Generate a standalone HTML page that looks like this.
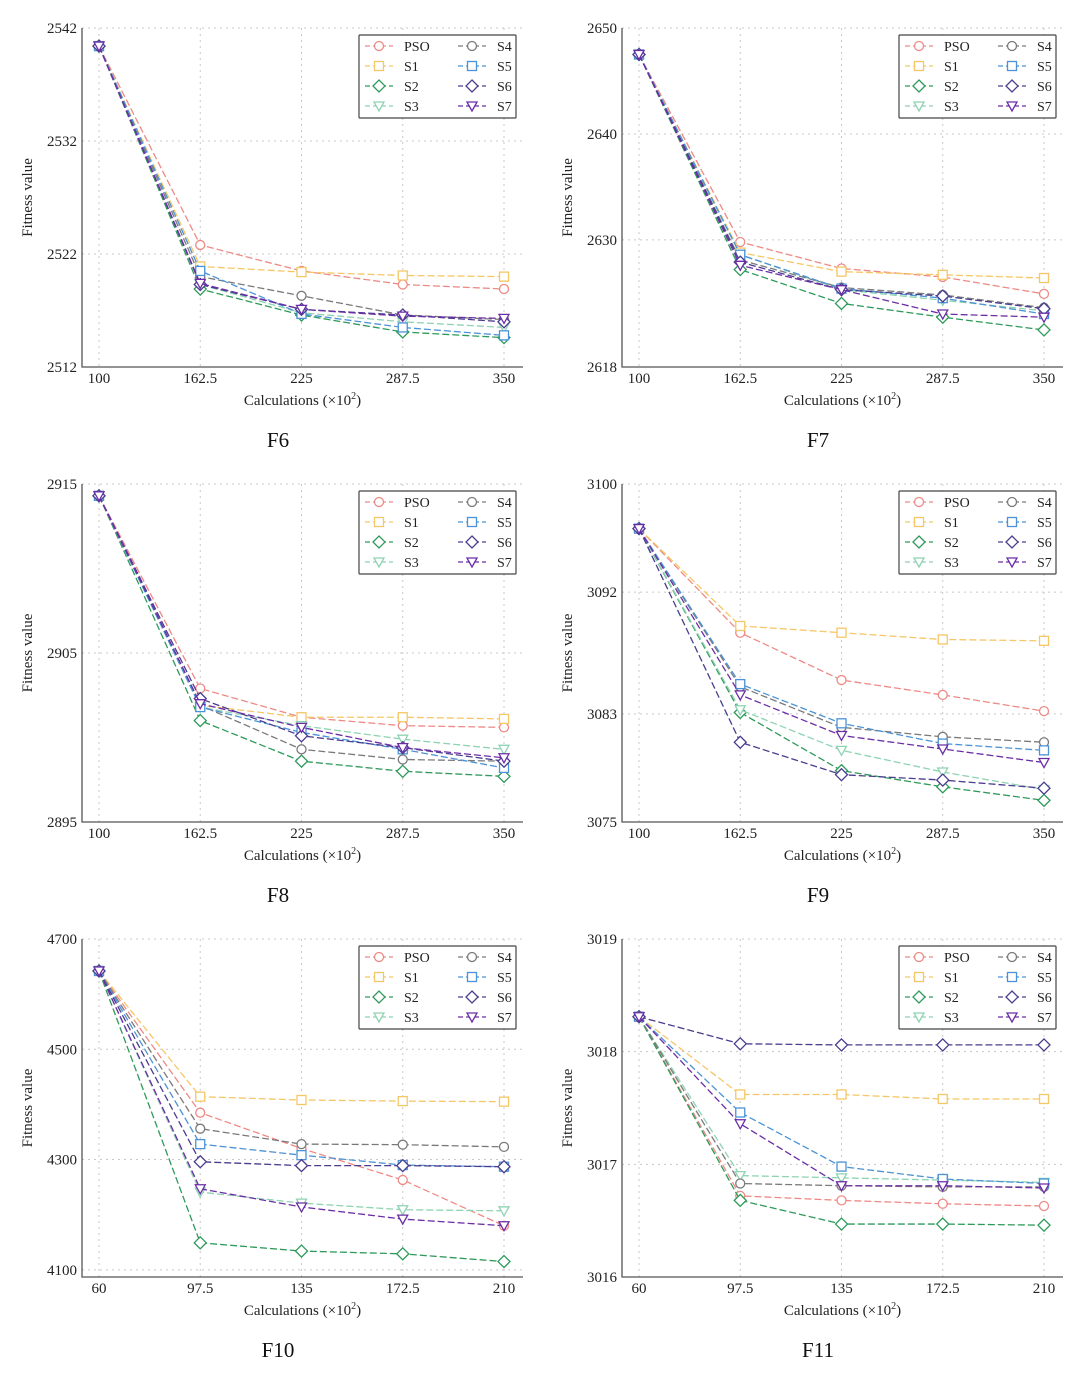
<!DOCTYPE html>
<html><head><meta charset="utf-8"><style>
html,body{margin:0;padding:0;background:#fff;}
svg{display:block;font-family:"Liberation Serif",serif;}
</style></head>
<body>
<svg id="fig" width="1080" height="1376" viewBox="0 0 1080 1376" xmlns="http://www.w3.org/2000/svg"></svg>
<script>
const seriesNames = ["PSO","S1","S2","S3","S4","S5","S6","S7"];
const xA = [100,162.5,225,287.5,350];
const xB = [60,97.5,135,172.5,210];
const f6 = [[2540.4,2522.8,2520.5,2519.3,2518.9],[2540.4,2520.9,2520.4,2520.1,2520.0],[2540.4,2518.9,2516.6,2515.1,2514.6],[2540.4,2519.3,2516.8,2516.0,2515.5],[2540.4,2520.0,2518.3,2516.6,2516.2],[2540.4,2520.5,2516.7,2515.5,2514.8],[2540.4,2519.3,2517.1,2516.6,2516.0],[2540.4,2519.4,2517.1,2516.5,2516.3]];
const f7 = [[2647.5,2629.8,2627.3,2626.5,2624.9],[2647.5,2628.8,2627.0,2626.7,2626.4],[2647.5,2627.2,2624.0,2622.7,2621.5],[2647.5,2628.6,2625.3,2624.3,2623.3],[2647.5,2628.1,2625.5,2624.8,2623.6],[2647.5,2628.6,2625.4,2624.5,2623.0],[2647.5,2627.9,2625.3,2624.7,2623.5],[2647.5,2627.6,2625.3,2623.0,2622.7]];
const f8 = [[2914.3,2902.9,2901.2,2900.7,2900.6],[2914.3,2901.9,2901.2,2901.2,2901.1],[2914.3,2901.0,2898.6,2898.0,2897.7],[2914.3,2901.8,2900.7,2899.9,2899.3],[2914.3,2901.9,2899.3,2898.7,2898.6],[2914.3,2901.8,2900.3,2899.3,2898.2],[2914.3,2902.3,2900.1,2899.4,2898.6],[2914.3,2902.0,2900.6,2899.4,2898.8]];
const f9 = [[3096.7,3089.0,3085.5,3084.4,3083.2],[3096.7,3089.5,3089.0,3088.5,3088.4],[3096.7,3083.1,3078.8,3077.6,3076.6],[3096.7,3083.3,3080.3,3078.7,3077.4],[3096.7,3085.0,3082.0,3081.3,3080.9],[3096.7,3085.2,3082.3,3080.8,3080.3],[3096.7,3080.9,3078.5,3078.1,3077.5],[3096.7,3084.4,3081.4,3080.4,3079.4]];
const f10 = [[4642,4385,4320,4263,4180],[4642,4414,4408,4406,4405],[4642,4149,4134,4129,4115],[4642,4241,4221,4209,4207],[4642,4356,4328,4327,4323],[4642,4328,4308,4290,4287],[4642,4296,4289,4289,4287],[4642,4247,4214,4192,4180]];
const f11 = [[3018.31,3016.72,3016.68,3016.65,3016.63],[3018.31,3017.62,3017.62,3017.58,3017.58],[3018.31,3016.68,3016.47,3016.47,3016.46],[3018.31,3016.9,3016.88,3016.86,3016.84],[3018.31,3016.83,3016.81,3016.80,3016.80],[3018.31,3017.46,3016.98,3016.87,3016.83],[3018.31,3018.07,3018.06,3018.06,3018.06],[3018.31,3017.36,3016.81,3016.81,3016.79]];
const xTicksA = ["100","162.5","225","287.5","350"];
const xTicksB = ["60","97.5","135","172.5","210"];
const yT6=[2512,2522,2532,2542], yT7=[2618,2630,2640,2650], yT8=[2895,2905,2915], yT9=[3075,3083,3092,3100], yT10=[4100,4300,4500,4700], yT11=[3016,3017,3018,3019];
const colors=["#ee8a86","#f6c766","#2e9a5a","#8ed3b2","#7a7a7a","#4b93d6","#4a3d8f","#6b2ea6"];
const markers=["o","s","d","v","o","s","d","v"];
const NS="http://www.w3.org/2000/svg";
const svg=document.getElementById('fig');
function mk(tag,attrs,parent){const e=document.createElementNS(NS,tag);for(const k in attrs)e.setAttribute(k,attrs[k]);(parent||svg).appendChild(e);return e;}
function marker(g,t,x,y,c){let e;
 if(t==="o")e=mk('circle',{cx:x,cy:y,r:4.5,fill:'#fff',stroke:c,'stroke-width':1.3},g);
 else if(t==="s")e=mk('rect',{x:x-4.5,y:y-4.5,width:9,height:9,fill:'#fff',stroke:c,'stroke-width':1.3},g);
 else if(t==="d")e=mk('polygon',{points:`${x},${y-6} ${x+6},${y} ${x},${y+6} ${x-6},${y}`,fill:'#fff',stroke:c,'stroke-width':1.3},g);
 else e=mk('polygon',{points:`${x-5},${y-4} ${x+5},${y-4} ${x},${y+5}`,fill:'#fff',stroke:c,'stroke-width':1.3},g);
 return e;}
const panels=[
 {id:"f6",name:"F6",L:82,T:28,B:367,data:f6,xs:xA,xt:xTicksA,yt:yT6,ymin:2512,ymax:2542},
 {id:"f7",name:"F7",L:622,T:28,B:367,data:f7,xs:xA,xt:xTicksA,yt:yT7,ymin:2618,ymax:2650},
 {id:"f8",name:"F8",L:82,T:484,B:822,data:f8,xs:xA,xt:xTicksA,yt:yT8,ymin:2895,ymax:2915},
 {id:"f9",name:"F9",L:622,T:484,B:822,data:f9,xs:xA,xt:xTicksA,yt:yT9,ymin:3075,ymax:3100},
 {id:"f10",name:"F10",L:82,T:939,B:1277,data:f10,xs:xB,xt:xTicksB,yt:yT10,ymin:4087,ymax:4700},
 {id:"f11",name:"F11",L:622,T:939,B:1277,data:f11,xs:xB,xt:xTicksB,yt:yT11,ymin:3016,ymax:3019}
];
panels.forEach(p=>{
 const g=mk('g',{});
 
 
 const R=p.L+441, x0=p.L+17, x1=p.L+422;
 const xf=v=>x0+(v-p.xs[0])/(p.xs[4]-p.xs[0])*(x1-x0);
 const yf=v=>p.B-(v-p.ymin)/(p.ymax-p.ymin)*(p.B-p.T);
 p.xs.forEach((v,i)=>{
  const l=mk('line',{x1:xf(v),x2:xf(v),y1:p.T,y2:p.B,stroke:'#c8c8c8','stroke-dasharray':'2,4','stroke-width':1},g);
  
  const t=mk('text',{x:xf(v),y:p.B+16,'font-size':15,'text-anchor':'middle',fill:'#222'},g);t.textContent=p.xt[i];
  
 });
 p.yt.forEach(v=>{
  const l=mk('line',{x1:p.L,x2:R,y1:yf(v),y2:yf(v),stroke:'#c8c8c8','stroke-dasharray':'2,4','stroke-width':1},g);
  
  const t=mk('text',{x:p.L-5,y:yf(v)+5,'font-size':15,'text-anchor':'end',fill:'#222'},g);t.textContent=v;
  
 });
 const ax=mk('path',{d:`M${p.L},${p.T} V${p.B} H${R}`,fill:'none',stroke:'#555','stroke-width':1.3},g);
 
 p.data.forEach((s,k)=>{
  const sg=mk('g',{},g);
  
  
  const pts=s.map((v,i)=>xf(p.xs[i])+','+yf(v)).join(' ');
  mk('polyline',{points:pts,fill:'none',stroke:colors[k],'stroke-width':1.3,'stroke-dasharray':'7,3'},sg);
  s.forEach((v,i)=>{const m=marker(sg,markers[k],xf(p.xs[i]),yf(v),colors[k]);
   });
 });
 const lx=p.L+277, ly=p.T+7;
 const lg=mk('g',{},g);
 
 mk('rect',{x:lx,y:ly,width:157,height:83,fill:'#fff',stroke:'#444','stroke-width':1.2,rx:1},lg);
 seriesNames.forEach((n,k)=>{
  const col=k<4?0:1,row=k%4;
  const ex=lx+(col?99:6), ey=ly+11+row*20;
  const e=mk('g',{},lg);
  
  mk('line',{x1:ex,x2:ex+28,y1:ey,y2:ey,stroke:colors[k],'stroke-width':1.3,'stroke-dasharray':'5,3'},e);
  marker(e,markers[k],ex+14,ey,colors[k]);
  const t=mk('text',{x:col?ex+39:ex+39,y:ey+5,'font-size':14,fill:'#222'},e);t.textContent=n;
 });
 const xl=mk('text',{x:(p.L+R)/2,y:p.B+38,'font-size':15,'text-anchor':'middle',fill:'#222'},g);
 xl.innerHTML='Calculations (×10<tspan dy="-6" font-size="10">2</tspan><tspan dy="6">)</tspan>';
 
 const yl=mk('text',{x:0,y:0,'font-size':15,'text-anchor':'middle',fill:'#222',transform:`translate(${p.L-50},${(p.T+p.B)/2}) rotate(-90)`},g);
 yl.textContent='Fitness value';
 
 const tt=mk('text',{x:p.L+196,y:p.B+80,'font-size':21,'text-anchor':'middle',fill:'#111'},g);
 tt.textContent=p.name;
 
});
</script>
</body></html>
